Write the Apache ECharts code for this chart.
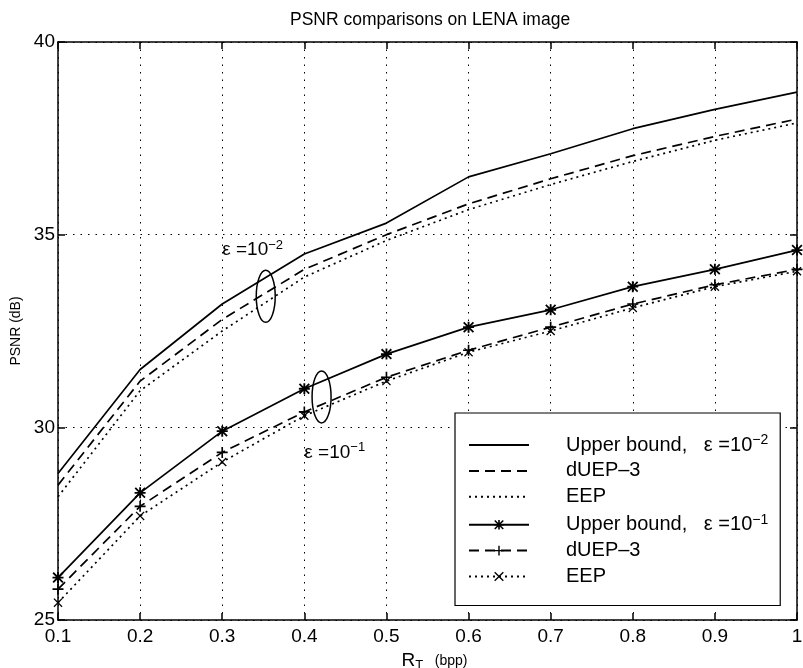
<!DOCTYPE html>
<html><head><meta charset="utf-8">
<script src="https://cdn.jsdelivr.net/npm/echarts@6/dist/echarts.min.js"></script>
<style>html,body{margin:0;padding:0;background:#fff}#c{width:803px;height:668px}</style>
</head><body><div id="c"></div>
<script>
// ---- data ----
const rates = [0.1, 0.2, 0.3, 0.4, 0.5, 0.6, 0.7, 0.8, 0.9, 1.0];
const upperBound2 = [28.8, 31.5, 33.2, 34.5, 35.3, 36.5, 37.1, 37.75, 38.25, 38.7];
const dUEP2 = [28.5, 31.2, 32.8, 34.1, 35.0, 35.8, 36.45, 37.05, 37.55, 38.0];
const EEP2 = [28.2, 30.95, 32.5, 33.9, 34.85, 35.65, 36.3, 36.9, 37.45, 37.9];
const upperBound1 = [26.1, 28.3, 29.9, 31.0, 31.9, 32.6, 33.05, 33.65, 34.1, 34.6];
const dUEP1 = [25.8, 27.95, 29.35, 30.4, 31.3, 32.0, 32.6, 33.2, 33.7, 34.1];
const EEP1 = [25.45, 27.7, 29.1, 30.3, 31.2, 31.95, 32.5, 33.1, 33.65, 34.05];
const legendLabels = ['{a|Upper bound,   \u03b5 =10}{s|\u22122}', '{a|dUEP\u20133}', '{a|EEP}',
                      '{a|Upper bound,   \u03b5 =10}{s|\u22121}', '{a|dUEP\u20133}', '{a|EEP}'];
const yTicks = [25, 30, 35, 40];

const F = '"Liberation Sans", Arial, Helvetica, sans-serif';
const STAR = 'path://M8.3,0H11.7V8.3H20V11.7H11.7V20H8.3V11.7H0V8.3H8.3Z M2.3,0L20,17.7L17.7,20L0,2.3Z M17.7,0L20,2.3L2.3,20L0,17.7Z';
const PLUS = 'path://M8.5,0H11.5V8.5H20V11.5H11.5V20H8.5V11.5H0V8.5H8.5Z';
const CROSS = 'path://M2,0L10,8L18,0L20,2L12,10L20,18L18,20L10,12L2,20L0,18L8,10L0,2Z';

const seriesIds = ['s0','s1','s2','s3','s4','s5'];
const labelMap = {};
seriesIds.forEach((id,i)=>labelMap[id]=legendLabels[i]);

function mk(id, ys, dash, sym, size) {
  return {
    name: id, type: 'line', data: rates.map((x,i)=>[x, ys[i]]),
    symbol: sym || 'none', symbolSize: size || 10, showSymbol: !!sym,
    lineStyle: {color: '#000', width: 1.7, type: dash},
    itemStyle: {color: '#000', borderWidth: 0},
    silent: true, animation: false
  };
}

const chart = echarts.init(document.getElementById('c'));
const axisLine = {show: true, lineStyle: {color: '#000', width: 1.5}};
const axisTick = {show: true, inside: true, length: 7, lineStyle: {color: '#000', width: 1.5}};
const richSup = {
  a: {fontFamily: F, fontSize: 20, color: '#000', lineHeight: 24},
  s: {fontFamily: F, fontSize: 14, color: '#000', verticalAlign: 'top', lineHeight: 14}
};
chart.setOption({
  animation: false,
  backgroundColor: '#fff',
  title: {text: 'PSNR comparisons on LENA image', left: 285, top: 6,
          textStyle: {fontFamily: F, fontSize: 17.5, fontWeight: 'normal', color: '#000'}},
  grid: {left: 58, right: 6, top: 42, bottom: 48, outerBoundsMode: 'none', containLabel: false},
  legend: {
    orient: 'vertical', left: 455, top: 413, backgroundColor: '#fff',
    borderColor: '#000', borderWidth: 1.2, padding: [20, 12, 19, 13],
    itemGap: 5.9, itemWidth: 60, itemHeight: 12, selectedMode: false,
    data: seriesIds.map((id, i) => i < 3 ? {name: id, itemStyle: {opacity: 0}} : {name: id}),
    formatter: n => labelMap[n],
    textStyle: {fontFamily: F, fontSize: 20, color: '#000', padding: [0, 0, 0, 32], rich: richSup}
  },
  xAxis: [{
    type: 'value', min: 0.1, max: 1, interval: 0.1, position: 'bottom',
    axisLine, axisTick,
    axisLabel: {color: '#000', fontFamily: F, fontSize: 19, margin: 7,
                formatter: v => String(+(+v).toFixed(1))},
    splitLine: {show: true, lineStyle: {color: '#000', width: 1, type: [1.5, 6]}},
    name: '{r|R}{t|T}{b|   (bpp)}', nameLocation: 'middle', nameGap: 30,
    nameTextStyle: {color: '#000', fontFamily: F, padding: [0, 0, 0, 14],
      rich: {r: {fontSize: 19, fontFamily: F}, t: {fontSize: 13, fontFamily: F, padding: [9, 0, 0, 0]},
             b: {fontSize: 14, fontFamily: F}}}
  }, {
    type: 'value', min: 0.1, max: 1, interval: 0.1, position: 'top',
    axisLine, axisTick, axisLabel: {show: false}, splitLine: {show: false}
  }],
  yAxis: [{
    type: 'value', min: yTicks[0], max: yTicks[yTicks.length-1], interval: 5, position: 'left',
    axisLine, axisTick,
    axisLabel: {color: '#000', fontFamily: F, fontSize: 19, margin: 3},
    splitLine: {show: true, lineStyle: {color: '#000', width: 1, type: [1.5, 6]}},
    name: 'PSNR (dB)', nameLocation: 'middle', nameGap: 28,
    nameTextStyle: {color: '#000', fontFamily: F, fontSize: 14}
  }, {
    type: 'value', min: yTicks[0], max: yTicks[yTicks.length-1], interval: 5, position: 'right',
    axisLine, axisTick, axisLabel: {show: false}, splitLine: {show: false}
  }],
  series: [
    mk('s0', upperBound2, 'solid'),
    mk('s1', dUEP2, [10, 6]),
    mk('s2', EEP2, [2, 4]),
    mk('s3', upperBound1, 'solid', STAR, 11),
    mk('s4', dUEP1, [10, 6], PLUS, 11),
    mk('s5', EEP1, [2, 4], CROSS, 9)
  ]
});

const px = (x, y) => chart.convertToPixel({xAxisIndex: 0, yAxisIndex: 0}, [x, y]);
const e2c = px(0.353, 33.4), e1c = px(0.421, 30.79);
const t2 = px(0.3, 34.6), t1 = px(0.4, 29.35);
const ell = (c) => ({type: 'ellipse', shape: {cx: c[0], cy: c[1], rx: 9.5, ry: 26},
  style: {fill: null, stroke: '#000', lineWidth: 1.5}, silent: true, z: 10});
const annRich = {
  a: {fontFamily: F, fontSize: 19, fill: '#000', lineHeight: 22},
  s: {fontFamily: F, fontSize: 13, fill: '#000', verticalAlign: 'top', lineHeight: 13}
};
const txt = (p, s) => ({type: 'text', x: p[0], y: p[1], silent: true, z: 10,
  style: {text: s, fill: '#000', verticalAlign: 'middle', rich: annRich}});
chart.setOption({graphic: [
  ell(e2c), ell(e1c),
  txt(t2, '{a|\u03b5 =10}{s|\u22122}'), txt(t1, '{a|\u03b5 =10}{s|\u22121}')
]});
</script>
</body></html>
